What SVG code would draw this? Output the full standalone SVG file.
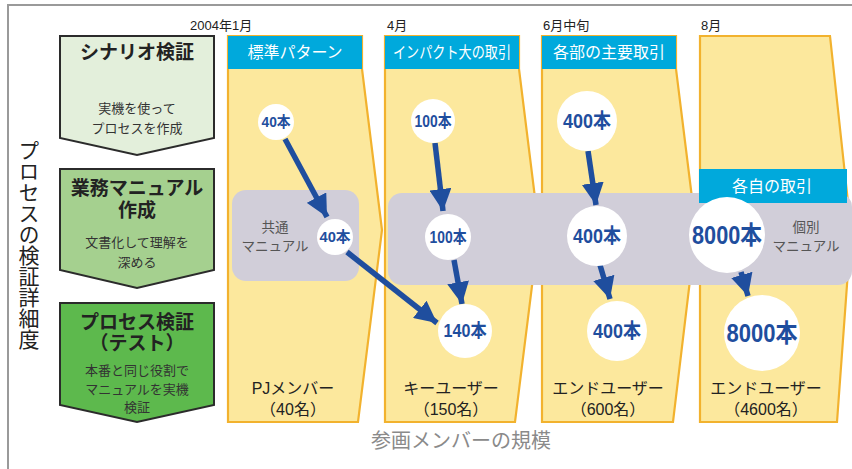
<svg xmlns="http://www.w3.org/2000/svg" width="852" height="469" viewBox="0 0 852 469">
<style>
.jp{font-family:"Noto Sans CJK JP","Liberation Sans",sans-serif}
.col{fill:#FCE89D;stroke:#F2B22E;stroke-width:2.2}
.hdr{fill:#00A9DC}
.hdt{font-family:"Noto Sans CJK JP",sans-serif;font-size:16px;fill:#fff;text-anchor:middle}
.band{fill:#D1CED9}
.chev{stroke:#2B2B2B;stroke-width:2}
.ttl{font-family:"Noto Sans CJK JP",sans-serif;font-size:19px;font-weight:bold;fill:#222;text-anchor:middle}
.sub{font-family:"Noto Sans CJK JP",sans-serif;font-size:13px;fill:#333;text-anchor:middle}
.date{font-family:"Liberation Sans","Noto Sans CJK JP",sans-serif;font-size:13px;fill:#222}
.lbl{font-family:"Liberation Sans","Noto Sans CJK JP",sans-serif;font-size:16px;fill:#222;text-anchor:middle}
.gt{font-family:"Noto Sans CJK JP",sans-serif;font-size:13.5px;fill:#555;text-anchor:middle}
.circ{fill:#fff}
.num{font-family:"Liberation Sans","Noto Sans CJK JP",sans-serif;font-weight:bold;fill:#1F4E9E;text-anchor:middle}
.arr{stroke:#1F4E9E;stroke-width:5.5;fill:none;marker-end:url(#ah)}
</style>
<defs>
<marker id="ah" markerUnits="userSpaceOnUse" viewBox="0 0 20 20" refX="20" refY="10" markerWidth="22" markerHeight="22" orient="auto">
<path d="M0,0 L20,10 L0,20 z" fill="#1F4E9E"/>
</marker>
</defs>
<path d="M8,469 V5 H852" fill="none" stroke="#9A9A9A" stroke-width="2"/>

<g id="axis-y"><text class="jp" x="29" y="140" font-size="21" fill="#222" style="writing-mode:vertical-rl">プロセスの検証詳細度</text></g>
<g id="axis-x"><text class="jp" x="461" y="448" font-size="20" fill="#8A8A8A" text-anchor="middle">参画メンバーの規模</text></g>

<g id="dates">
<text class="date" x="190" y="30">2004年1月</text>
<text class="date" x="387" y="30">4月</text>
<text class="date" x="543" y="30">6月中旬</text>
<text class="date" x="701" y="30">8月</text>
</g>

<g id="stage1">
<path class="chev" fill="#E3EFDB" d="M60,36 H214 V138 L137,155 L60,138 Z"/>
<text class="ttl" x="137" y="59">シナリオ検証</text>
<text class="sub" x="137" y="113">実機を使って<tspan x="137" y="133">プロセスを作成</tspan></text>
</g>
<g id="stage2">
<path class="chev" fill="#A5D08F" d="M60,169 H214 V270 L137,288 L60,270 Z"/>
<text class="ttl" x="137" y="195">業務マニュアル<tspan x="137" y="217">作成</tspan></text>
<text class="sub" x="137" y="247">文書化して理解を<tspan x="137" y="267">深める</tspan></text>
</g>
<g id="stage3">
<path class="chev" fill="#5DB94D" d="M60,303 H214 V405 L137,422 L60,405 Z"/>
<text class="ttl" x="137" y="329">プロセス検証<tspan x="137" y="350">（テスト）</tspan></text>
<text class="sub" x="137" y="375">本番と同じ役割で<tspan x="137" y="394">マニュアルを実機</tspan><tspan x="137" y="412">検証</tspan></text>
</g>

<g id="col1">
<path class="col" d="M228,36 H362 V69 L382,230 L358,422 H228 Z"/>
<rect class="hdr" x="228" y="36" width="134" height="33"/>
<text class="hdt" x="295" y="58">標準パターン</text>
<text class="lbl" x="293" y="394">PJメンバー<tspan x="293" y="415">（40名）</tspan></text>
</g>
<g id="col2">
<path class="col" d="M385,36 H519 V69 L539,230 L515,422 H385 Z"/>
<rect class="hdr" x="385" y="36" width="134" height="33"/>
<text class="hdt" x="452" y="58" font-size="14.5" textLength="118" lengthAdjust="spacingAndGlyphs">インパクト大の取引</text>
<text class="lbl" x="451" y="394">キーユーザー<tspan x="451" y="415">（150名）</tspan></text>
</g>
<g id="col3">
<path class="col" d="M542,36 H676 V69 L696,230 L673,422 H542 Z"/>
<rect class="hdr" x="542" y="36" width="134" height="33"/>
<text class="hdt" x="609" y="58">各部の主要取引</text>
<text class="lbl" x="608" y="394">エンドユーザー<tspan x="608" y="415">（600名）</tspan></text>
</g>
<g id="col4">
<path class="col" d="M700,36 H830 L851,230 L837,422 H700 Z"/>
<text class="lbl" x="766" y="394">エンドユーザー<tspan x="766" y="415">（4600名）</tspan></text>
</g>

<g id="common-manual">
<rect class="band" x="232" y="190" width="127" height="91" rx="14"/>
<text class="gt" x="275" y="232">共通<tspan x="275" y="251">マニュアル</tspan></text>
</g>
<g id="individual-manual">
<rect class="band" x="388" y="193" width="464" height="92" rx="14"/>
<text class="gt" x="806" y="232">個別<tspan x="806" y="251">マニュアル</tspan></text>
</g>
<g id="hdr-own">
<rect class="hdr" x="699" y="169" width="148" height="34"/>
<text class="hdt" x="772" y="192">各自の取引</text>
</g>

<g id="connectors">
<line class="arr" x1="285" y1="139" x2="327" y2="217"/>
<line class="arr" x1="347" y1="252" x2="437" y2="323"/>
<line class="arr" x1="435" y1="143" x2="443" y2="211"/>
<line class="arr" x1="454" y1="260" x2="462" y2="304"/>
<line class="arr" x1="588" y1="151" x2="596" y2="205"/>
<line class="arr" x1="600" y1="265" x2="610" y2="299"/>
<line class="arr" x1="741" y1="272" x2="748" y2="296"/>
</g>

<g id="n40a"><circle class="circ" cx="276" cy="122" r="18"/><text class="num" x="276" y="127" font-size="15" textLength="29" lengthAdjust="spacingAndGlyphs">40本</text></g>
<g id="n40b"><circle class="circ" cx="335" cy="237" r="18"/><text class="num" x="335" y="242" font-size="15" textLength="31" lengthAdjust="spacingAndGlyphs">40本</text></g>
<g id="n100a"><circle class="circ" cx="433" cy="121" r="22"/><text class="num" x="433" y="127" font-size="17" textLength="37" lengthAdjust="spacingAndGlyphs">100本</text></g>
<g id="n100b"><circle class="circ" cx="448" cy="237" r="23"/><text class="num" x="448" y="243" font-size="17" textLength="37" lengthAdjust="spacingAndGlyphs">100本</text></g>
<g id="n140"><circle class="circ" cx="465" cy="331" r="27"/><text class="num" x="465" y="337" font-size="18" textLength="43" lengthAdjust="spacingAndGlyphs">140本</text></g>
<g id="n400a"><circle class="circ" cx="587" cy="121" r="30"/><text class="num" x="587" y="128" font-size="20" textLength="48" lengthAdjust="spacingAndGlyphs">400本</text></g>
<g id="n400b"><circle class="circ" cx="597" cy="236" r="30"/><text class="num" x="597" y="243" font-size="20" textLength="48" lengthAdjust="spacingAndGlyphs">400本</text></g>
<g id="n400c"><circle class="circ" cx="617" cy="331" r="30"/><text class="num" x="617" y="338" font-size="20" textLength="48" lengthAdjust="spacingAndGlyphs">400本</text></g>
<g id="n8000a"><circle class="circ" cx="727" cy="235" r="38"/><text class="num" x="727" y="244" font-size="25" textLength="70" lengthAdjust="spacingAndGlyphs">8000本</text></g>
<g id="n8000b"><circle class="circ" cx="762" cy="333" r="38"/><text class="num" x="762" y="342" font-size="25" textLength="71" lengthAdjust="spacingAndGlyphs">8000本</text></g>
</svg>
